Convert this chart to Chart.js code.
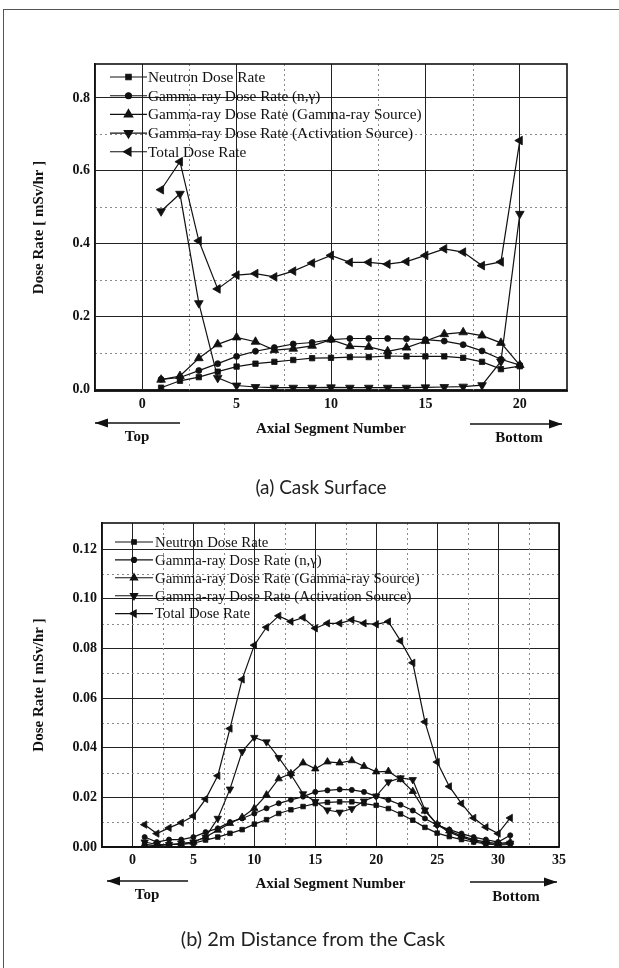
<!DOCTYPE html>
<html>
<head>
<meta charset="utf-8">
<script src="https://cdn.jsdelivr.net/npm/chart.js@4.4.0/dist/chart.umd.min.js"></script>
<style>
  body { margin: 0; background: #fff; width: 619px; height: 968px; position: relative; overflow: hidden; }
  #frame { position: absolute; left: 3px; top: 9px; width: 640px; height: 980px; border-top: 1px solid #555; border-left: 1px solid #555; }
  canvas { position: absolute; left: 0; }
  .cap { position: absolute; left: 0; font-family: Lato, "Open Sans", sans-serif; line-height: 24px; color: #222; text-align: center; }
</style>
</head>
<body>
<div id="frame"></div>
<canvas id="chartA" width="619" height="470" style="top:0px"></canvas>
<canvas id="chartB" width="619" height="470" style="top:470px"></canvas>
<div class="cap" style="top:475px; width:642px; font-size:19px;">(a) Cask Surface</div>
<div class="cap" style="top:926px; width:626px; font-size:20px;">(b) 2m Distance from the Cask</div>
<script>
// series names (same for both panels)
const seriesNames = [
  "Neutron Dose Rate",
  "Gamma-ray Dose Rate (n,\u03b3)",
  "Gamma-ray Dose Rate (Gamma-ray Source)",
  "Gamma-ray Dose Rate (Activation Source)",
  "Total Dose Rate"
];

// (a) cask surface, segments 1..20
const segmentsA = [1, 2, 3, 4, 5, 6, 7, 8, 9, 10, 11, 12, 13, 14, 15, 16, 17, 18, 19, 20];
const neutronA = [0.005, 0.024, 0.034, 0.049, 0.063, 0.071, 0.076, 0.081, 0.086, 0.087, 0.089, 0.089, 0.092, 0.091, 0.091, 0.091, 0.087, 0.076, 0.056, 0.064];
const ngA = [0.028, 0.033, 0.052, 0.071, 0.091, 0.105, 0.115, 0.125, 0.129, 0.137, 0.140, 0.140, 0.140, 0.139, 0.137, 0.133, 0.123, 0.106, 0.083, 0.067];
const gammaSrcA = [0.027, 0.037, 0.086, 0.124, 0.143, 0.131, 0.108, 0.112, 0.120, 0.137, 0.119, 0.117, 0.105, 0.115, 0.133, 0.152, 0.157, 0.148, 0.128, 0.067];
const activationA = [0.489, 0.537, 0.237, 0.032, 0.011, 0.007, 0.005, 0.005, 0.005, 0.006, 0.005, 0.005, 0.005, 0.005, 0.006, 0.007, 0.008, 0.012, 0.077, 0.482];
const totalA = [0.548, 0.625, 0.408, 0.276, 0.314, 0.318, 0.309, 0.325, 0.347, 0.368, 0.349, 0.349, 0.344, 0.351, 0.368, 0.386, 0.377, 0.340, 0.350, 0.683];
const xTicksA = [0, 5, 10, 15, 20];
const xMinorA = [2.5, 7.5, 12.5, 17.5];
const yTicksA = [0, 0.2, 0.4, 0.6, 0.8];
const yMinorA = [0.1, 0.3, 0.5, 0.7];

// (b) 2 m from the cask, segments 1..31
const segmentsB = [1, 2, 3, 4, 5, 6, 7, 8, 9, 10, 11, 12, 13, 14, 15, 16, 17, 18, 19, 20, 21, 22, 23, 24, 25, 26, 27, 28, 29, 30, 31];
const neutronB = [0.001, 0.0005, 0.001, 0.001, 0.0015, 0.0028, 0.004, 0.0055, 0.007, 0.0092, 0.011, 0.0135, 0.015, 0.0163, 0.0175, 0.018, 0.0182, 0.0182, 0.0175, 0.0168, 0.0155, 0.0133, 0.0108, 0.0079, 0.0056, 0.0042, 0.003, 0.002, 0.0012, 0.0008, 0.001];
const ngB = [0.004, 0.002, 0.003, 0.003, 0.004, 0.006, 0.0075, 0.01, 0.0115, 0.0135, 0.0156, 0.0176, 0.019, 0.0203, 0.0222, 0.0228, 0.0232, 0.023, 0.0222, 0.0204, 0.019, 0.017, 0.0147, 0.0115, 0.0088, 0.007, 0.0054, 0.004, 0.003, 0.002, 0.0047];
const gammaSrcB = [0.001, 0.0005, 0.001, 0.001, 0.002, 0.004, 0.0068, 0.0095, 0.012, 0.0156, 0.021, 0.0275, 0.0296, 0.0339, 0.0315, 0.0343, 0.0339, 0.0348, 0.0325, 0.0303, 0.0305, 0.0272, 0.0224, 0.0145, 0.0092, 0.0065, 0.0045, 0.003, 0.002, 0.0014, 0.002];
const activationB = [0.002, 0.001, 0.001, 0.0015, 0.002, 0.004, 0.0115, 0.0233, 0.0384, 0.0441, 0.0423, 0.036, 0.0292, 0.0214, 0.0183, 0.0149, 0.014, 0.0154, 0.0185, 0.0205, 0.0262, 0.0278, 0.0271, 0.0149, 0.009, 0.006, 0.004, 0.0025, 0.0015, 0.001, 0.0015];
const totalB = [0.009, 0.0054, 0.0077, 0.0098, 0.0125, 0.0193, 0.0287, 0.0477, 0.0675, 0.0813, 0.0885, 0.0931, 0.0908, 0.0924, 0.0881, 0.0901, 0.0901, 0.0915, 0.0901, 0.0897, 0.0908, 0.083, 0.0742, 0.0504, 0.0342, 0.0244, 0.0175, 0.0117, 0.008, 0.0054, 0.0117];
const xTicksB = [0, 5, 10, 15, 20, 25, 30, 35];
const xMinorB = [2.5, 7.5, 12.5, 17.5, 22.5, 27.5, 32.5];
const yTicksB = [0, 0.02, 0.04, 0.06, 0.08, 0.10, 0.12];
const yMinorB = [0.01, 0.03, 0.05, 0.07, 0.09, 0.11];

const INK = '#111';
const markers = [
  { style: 'rect', rot: 0, r: 3.8 },
  { style: 'circle', rot: 0, r: 3.0 },
  { style: 'triangle', rot: 0, r: 5 },
  { style: 'triangle', rot: 180, r: 5 },
  { style: 'triangle', rot: 270, r: 5 }
];
const serif = "'Liberation Serif', 'Times New Roman', serif";

function arrow(ctx, x0, x1, y, dir) {
  ctx.save();
  ctx.strokeStyle = INK; ctx.fillStyle = INK; ctx.lineWidth = 1.4;
  ctx.beginPath(); ctx.moveTo(x0, y); ctx.lineTo(x1, y); ctx.stroke();
  const tip = dir < 0 ? x0 : x1;
  ctx.beginPath();
  ctx.moveTo(tip, y);
  ctx.lineTo(tip - dir * 13, y - 4.5);
  ctx.lineTo(tip - dir * 13, y + 4.5);
  ctx.closePath(); ctx.fill();
  ctx.restore();
}

function decor(cfg) {
  return {
    id: 'decor',
    beforeDatasetsDraw(chart) {
      const { ctx, chartArea: a, scales } = chart;
      ctx.save();
      ctx.strokeStyle = '#8a8a8a'; ctx.lineWidth = 1; ctx.setLineDash([2, 3]);
      cfg.xMinor.forEach(v => {
        const px = Math.round(scales.x.getPixelForValue(v)) + 0.5;
        ctx.beginPath(); ctx.moveTo(px, a.top); ctx.lineTo(px, a.bottom); ctx.stroke();
      });
      cfg.yMinor.forEach(v => {
        const py = Math.round(scales.y.getPixelForValue(v)) + 0.5;
        ctx.beginPath(); ctx.moveTo(a.left, py); ctx.lineTo(a.right, py); ctx.stroke();
      });
      ctx.setLineDash([]);
      ctx.strokeStyle = INK; ctx.lineWidth = 1.6;
      ctx.strokeRect(a.left, a.top, a.right - a.left, a.bottom - a.top);
      ctx.restore();
    },
    afterDraw(chart) {
      const { ctx } = chart;
      ctx.save();
      // legend inside the plot
      chart.data.datasets.forEach((ds, i) => {
        const y = cfg.legY + i * cfg.legStep;
        ctx.strokeStyle = INK; ctx.lineWidth = 1.1;
        ctx.beginPath(); ctx.moveTo(cfg.legX0, y); ctx.lineTo(cfg.legX1, y); ctx.stroke();
        ctx.fillStyle = INK;
        Chart.helpers.drawPoint(ctx, {
          pointStyle: ds.pointStyle, rotation: ds.pointRotation,
          radius: ds.pointRadius, borderWidth: 0.8
        }, (cfg.legX0 + cfg.legX1) / 2, y);
        ctx.font = cfg.legFont + 'px ' + serif;
        ctx.textBaseline = 'middle'; ctx.textAlign = 'left';
        ctx.fillText(ds.label, cfg.legText, y + 1);
      });
      // direction arrows
      arrow(ctx, cfg.arrL[0], cfg.arrL[1], cfg.arrL[2], -1);
      arrow(ctx, cfg.arrR[0], cfg.arrR[1], cfg.arrR[2], 1);
      ctx.fillStyle = INK;
      ctx.font = 'bold 15px ' + serif;
      ctx.textAlign = 'center'; ctx.textBaseline = 'middle';
      ctx.fillText('Top', cfg.top[0], cfg.top[1]);
      ctx.fillText('Bottom', cfg.bottom[0], cfg.bottom[1]);
      ctx.restore();
    }
  };
}

function buildChart(id, segs, values, cfg) {
  const datasets = values.map((vals, i) => ({
    label: seriesNames[i],
    data: segs.map((s, j) => ({ x: s, y: vals[j] })),
    borderColor: INK,
    backgroundColor: INK,
    borderWidth: 1.2,
    pointStyle: markers[i].style,
    pointRotation: markers[i].rot,
    pointRadius: markers[i].r * cfg.mk,
    pointBorderWidth: 0.8,
    tension: 0,
    fill: false
  }));
  return new Chart(document.getElementById(id), {
    type: 'line',
    data: { datasets },
    options: {
      responsive: false,
      animation: false,
      layout: { padding: cfg.pad },
      plugins: { legend: { display: false }, tooltip: { enabled: false } },
      scales: {
        x: {
          type: 'linear', min: cfg.xMin, max: cfg.xMax,
          afterBuildTicks: s => { s.ticks = cfg.xTicks.map(v => ({ value: v })); },
          afterFit: s => { s.height = cfg.xAxisH; },
          ticks: { font: { family: serif, size: 14, weight: 'bold' }, color: INK, padding: 5, maxRotation: 0, autoSkip: false },
          grid: { color: '#222', lineWidth: 1, drawTicks: false },
          border: { color: INK, width: 1.6 },
          title: { display: true, text: 'Axial Segment Number', color: INK, padding: 0,
                   font: { family: serif, size: 15, weight: 'bold' } }
        },
        y: {
          min: cfg.yMin, max: cfg.yMax,
          afterBuildTicks: s => { s.ticks = cfg.yTicks.map(v => ({ value: v })); },
          afterFit: s => { s.width = cfg.yAxisW; },
          ticks: { font: { family: serif, size: 14, weight: 'bold' }, color: INK, padding: 5,
                   callback: v => v.toFixed(cfg.yDec) },
          grid: { color: '#222', lineWidth: 1, drawTicks: false },
          border: { color: INK, width: 1.6 },
          title: { display: true, text: 'Dose Rate [ mSv/hr ]', color: INK, padding: 0,
                   font: { family: serif, size: 15, weight: 'bold' } }
        }
      }
    },
    plugins: [decor(cfg)]
  });
}

buildChart('chartA', segmentsA, [neutronA, ngA, gammaSrcA, activationA, totalA], {
  pad: { left: 30, top: 64, right: 52, bottom: 32 },
  xAxisH: 47, yAxisW: 65,
  xMin: -2.5, xMax: 22.5, yMin: -0.004, yMax: 0.893, yDec: 1,
  xTicks: xTicksA, xMinor: xMinorA, yTicks: yTicksA, yMinor: yMinorA,
  mk: 1,
  legY: 77, legStep: 18.7, legX0: 110, legX1: 147, legText: 148, legFont: 15.3,
  arrL: [95, 180, 423], arrR: [470, 562, 424],
  top: [137, 437], bottom: [519, 438]
});

buildChart('chartB', segmentsB, [neutronB, ngB, gammaSrcB, activationB, totalB], {
  pad: { left: 30, top: 53, right: 60, bottom: 47 },
  xAxisH: 46, yAxisW: 72,
  xMin: -2.5, xMax: 35, yMin: 0, yMax: 0.1305, yDec: 2,
  xTicks: xTicksB, xMinor: xMinorB, yTicks: yTicksB, yMinor: yMinorB,
  mk: 0.85,
  legY: 72, legStep: 17.9, legX0: 115, legX1: 153, legText: 155, legFont: 14.8,
  arrL: [107, 188, 411], arrR: [470, 557, 412],
  top: [147, 425], bottom: [516, 427]
});
</script>
</body>
</html>
